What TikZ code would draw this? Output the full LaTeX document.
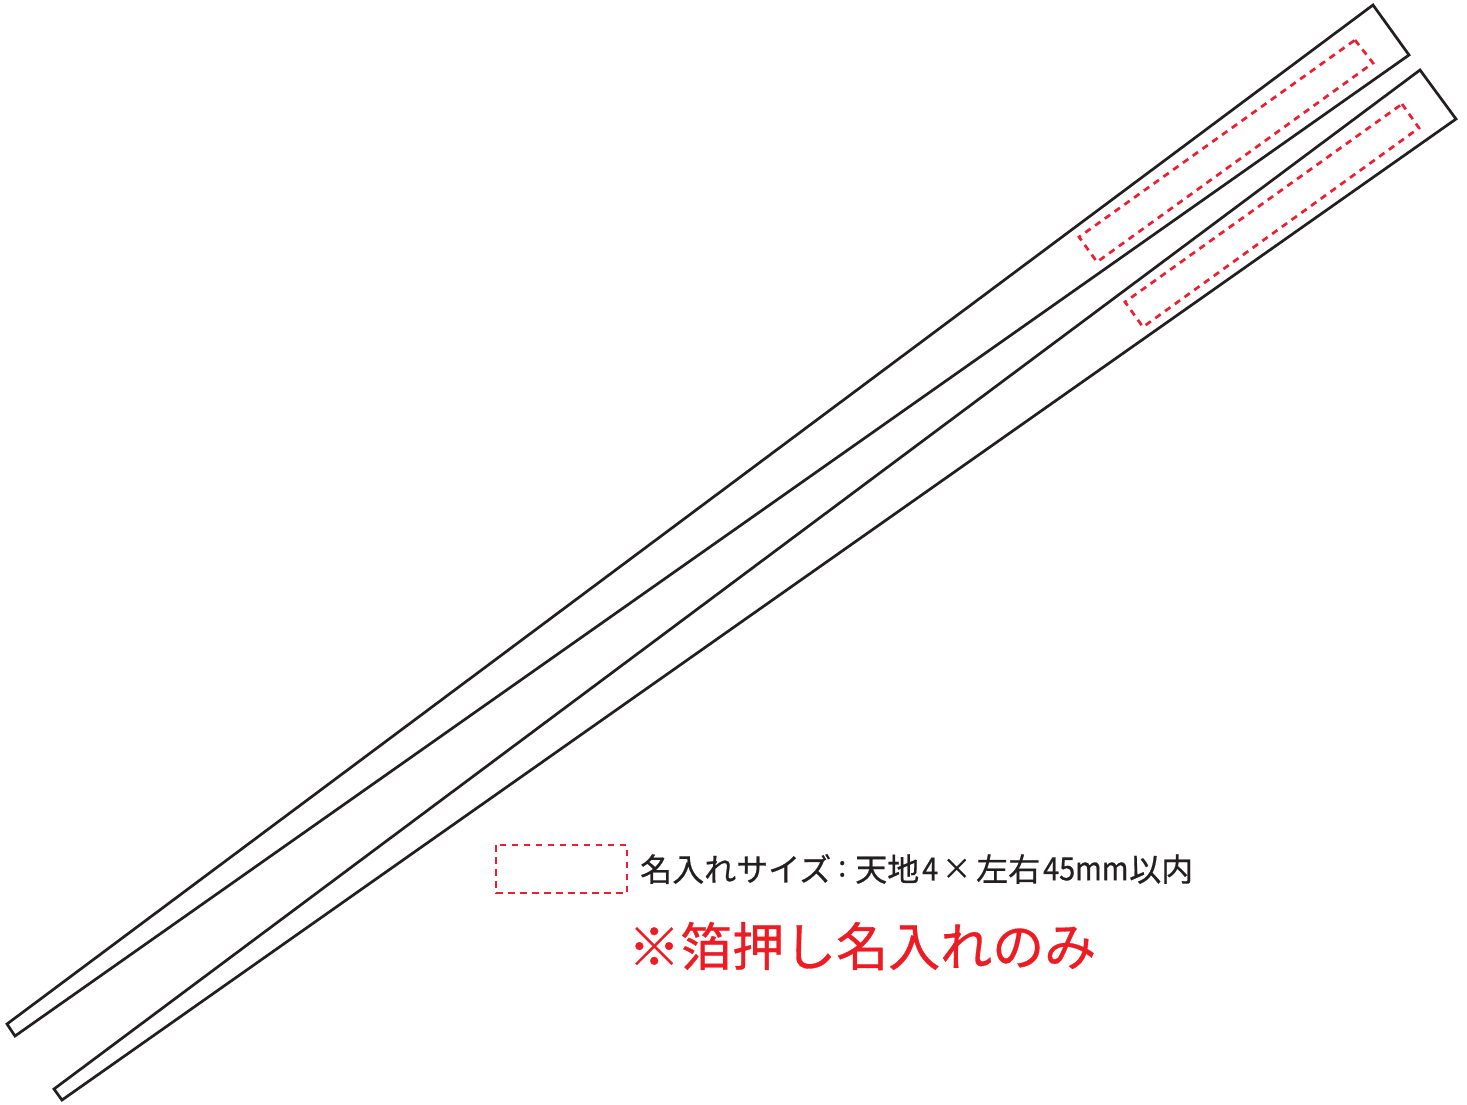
\documentclass[tikz,border=0pt]{standalone}
\usepackage{fontspec}
\newfontfamily\cjk{Noto Sans CJK JP}[FakeBold=0.6]
\newfontfamily\cjkb{Noto Sans CJK JP}[FakeStretch=0.9,FakeBold=0.6]
\definecolor{ink}{RGB}{35,31,32}
\definecolor{redtxt}{RGB}{237,28,36}
\definecolor{reddash}{RGB}{238,30,50}
\tikzset{
  stick/.style={draw=ink,line width=2.7pt,line join=miter},
  namearea/.style={draw=reddash,line width=2.7pt,dash pattern=on 6.5pt off 5.5pt},
  lbl/.style={inner sep=0pt,anchor=west,text=ink,font=\cjk\fontsize{32}{32}\selectfont},
  lblx/.style={inner sep=0pt,anchor=west,text=ink,font=\cjk\fontsize{29}{29}\selectfont},
  lbln/.style={inner sep=0pt,anchor=west,text=ink,font=\cjkb\fontsize{32}{32}\selectfont},
  note/.style={inner sep=0pt,anchor=west,text=redtxt,font=\cjk\fontsize{52}{52}\selectfont}
}
\begin{document}
\begin{tikzpicture}[x=1pt,y=-1pt]
\useasboundingbox (0,0) rectangle (1467,1104);
\fill[white] (0,0) rectangle (1467,1104);
\draw[stick] (1373,5) -- (1409,55) -- (15,1036) -- (7,1024) -- cycle;
\draw[stick] (1420,70) -- (1456,119) -- (62,1100) -- (54,1089) -- cycle;
\draw[namearea] (1355,40) -- (1373,63) -- (1097,262) -- (1079,237) -- cycle;
\draw[namearea] (1402,104) -- (1419,128) -- (1143,327) -- (1125,302) -- cycle;
\draw[namearea] (496,845) rectangle (627,893);
\node[lbl] (size) at (640,869) {名入れサイズ};
\node[lblx] (colon) at (838,869) {:};
\node[lbl] (ten) at (855,869) {天地};
\node[lbln] (four) at (922,869) {4};
\node[lblx] (times) at (942,869) {×};
\node[lbl] (sayu) at (976,869) {左右};
\node[lbln] (mm) at (1043,869) {45mm};
\node[lbl] (inai) at (1129,869) {以内};
\node[note] (only) at (628,946) {※箔押し名入れのみ};
\end{tikzpicture}
\end{document}
